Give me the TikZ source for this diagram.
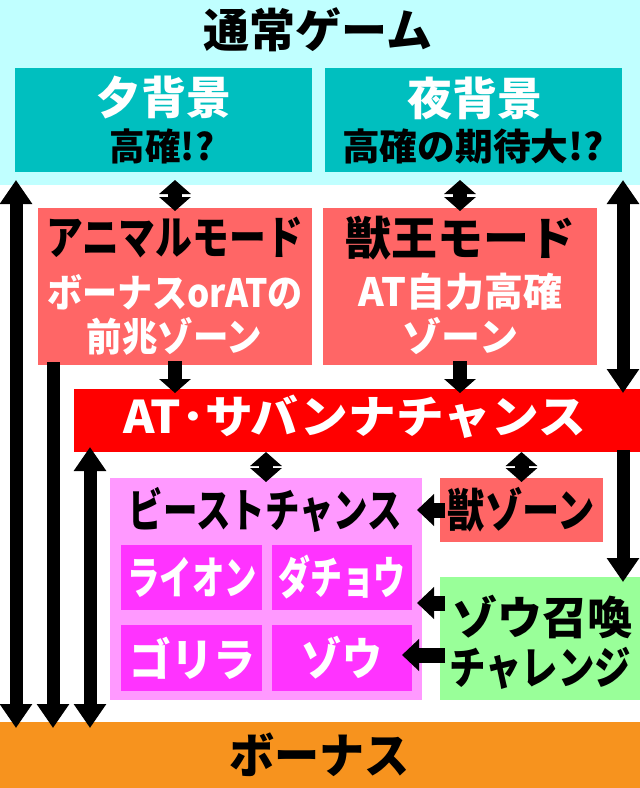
\documentclass[tikz,border=0pt]{standalone}
\usepackage{fontspec}
\usepackage{graphicx}
\setmainfont{Noto Sans CJK JP}[BoldFont={* Black}]
\usetikzlibrary{arrows.meta}

\definecolor{bandcyan}{HTML}{C0FFFF}
\definecolor{teal}{HTML}{00BFBF}
\definecolor{salmon}{HTML}{FF6666}
\definecolor{atred}{HTML}{FF0000}
\definecolor{beastpink}{HTML}{FF99FF}
\definecolor{animalmag}{HTML}{FF33FF}
\definecolor{zougreen}{HTML}{99FF99}
\definecolor{bonusorange}{HTML}{F7931E}

\newcommand{\sq}[2]{\scalebox{#1}[1]{#2}}
\newcommand{\fs}[1]{\bfseries\fontsize{#1}{#1}\selectfont}

\tikzset{
  longtip/.tip={Triangle[width=31pt,length=24pt]},
  shorttip/.tip={Triangle[width=31pt,length=14pt]},
  sidetip/.tip={Triangle[width=31pt,length=17pt]}
}

\begin{document}
\begin{tikzpicture}[x=1pt,y=-1pt,
  box/.style={rectangle,draw=none,inner sep=0pt,outer sep=0pt},
  lbl/.style={inner sep=0pt,outer sep=0pt},
  bigpair/.style={line width=13pt,{longtip}-{longtip}},
  bigdown/.style={line width=13pt,-{longtip}},
  pair/.style={line width=14pt,{shorttip}-{shorttip}},
  down/.style={line width=14pt,-{shorttip}},
  side/.style={line width=15pt,-{sidetip}}]
\fill[white] (0,0) rectangle (640,788);

% boxes
\node[box,fill=bandcyan,minimum width=640pt,minimum height=185pt] (normal) at (320,92.5) {};
\node[box,fill=teal,minimum width=297pt,minimum height=104pt] (yuu) at (163.5,120) {};
\node[box,fill=teal,minimum width=297pt,minimum height=104pt] (yoru) at (473.5,120) {};
\node[box,fill=salmon,minimum width=274pt,minimum height=157pt] (animal) at (175,286.5) {};
\node[box,fill=salmon,minimum width=274pt,minimum height=157pt] (juou) at (460,286.5) {};
\node[box,fill=atred,minimum width=566pt,minimum height=63pt] (at) at (357,420.5) {};
\node[box,fill=beastpink,minimum width=312pt,minimum height=222pt] (beast) at (266,589) {};
\node[box,fill=animalmag,minimum width=141pt,minimum height=65pt] (lion) at (191.5,577.5) {};
\node[box,fill=animalmag,minimum width=140pt,minimum height=65pt] (dacho) at (342,577.5) {};
\node[box,fill=animalmag,minimum width=141pt,minimum height=66pt] (gorilla) at (191.5,658) {};
\node[box,fill=animalmag,minimum width=140pt,minimum height=66pt] (zou) at (342,658) {};
\node[box,fill=salmon,minimum width=163pt,minimum height=64pt] (juzone) at (521.5,510) {};
\node[box,fill=zougreen,minimum width=200pt,minimum height=123pt] (green) at (540,638.5) {};
\node[box,fill=bonusorange,minimum width=640pt,minimum height=66pt] (bonus) at (320,755) {};

% texts
\node[lbl,font=\fs{46}] (normal-t) at (318,30) {通常ゲーム};
\node[lbl,font=\fs{45},text=white] (yuu-t) at (163.5,98) {夕背景};
\node[lbl,font=\fs{37}] (yuu-s) at (162,146) {\sq{0.96}{高確!?}};
\node[lbl,font=\fs{45},text=white] (yoru-t) at (474.5,98) {夜背景};
\node[lbl,font=\fs{37}] (yoru-s) at (473,146) {\sq{1.02}{高確の期待大!?}};
\node[lbl,font=\fs{46}] (animal-t) at (174.5,238) {\sq{0.80}{アニマルモード}};
\node[lbl,font=\fs{39},text=white] (animal-s) at (175,292) {\sq{0.90}{ボーナスorATの}};
\node[lbl,font=\fs{39},text=white] (animal-u) at (174.5,336) {\sq{0.91}{前兆ゾーン}};
\node[lbl,font=\fs{46}] (juou-t) at (460,238) {獣王モード};
\node[lbl,font=\fs{39},text=white] (juou-s) at (460.5,292) {AT自力高確};
\node[lbl,font=\fs{39},text=white] (juou-u) at (460.5,336) {ゾーン};
\node[lbl,font=\fs{45},text=white] (at-t) at (354.5,417) {\sq{1.06}{AT･サバンナチャンス}};
\node[lbl,font=\fs{46}] (beast-t) at (265.5,510) {\sq{0.75}{ビーストチャンス}};
\node[lbl,font=\fs{45},text=white] (lion-t) at (192,577) {\sq{0.72}{ライオン}};
\node[lbl,font=\fs{45},text=white] (dacho-t) at (342,577) {\sq{0.71}{ダチョウ}};
\node[lbl,font=\fs{45},text=white] (gorilla-t) at (192.5,658) {\sq{0.93}{ゴリラ}};
\node[lbl,font=\fs{45},text=white] (zou-t) at (342,658) {\sq{0.89}{ゾウ}};
\node[lbl,font=\fs{46}] (juzone-t) at (521.5,510) {\sq{0.81}{獣ゾーン}};
\node[lbl,font=\fs{45}] (green-t) at (542,617) {ゾウ召喚};
\node[lbl,font=\fs{45}] (green-s) at (540,668) {\sq{0.81}{チャレンジ}};
\node[lbl,font=\fs{48}] (bonus-t) at (319.5,755) {\sq{0.94}{ボーナス}};

% arrows
\draw[pair,shorten <=-3pt,shorten >=8pt] (animal.north) -- (animal.north |- yuu.south);
\draw[pair,shorten <=-3pt,shorten >=8pt] (juou.north) -- (juou.north |- yoru.south);
\draw[down,shorten <=-4pt,shorten >=-4pt] (animal.south) -- (animal.south |- at.north);
\draw[down,shorten <=-4pt,shorten >=-4pt] (juou.south) -- (juou.south |- at.north);
\draw[bigpair,shorten <=-5pt,shorten >=-6pt] ([xshift=16pt]normal.south west) -- ([xshift=16pt]bonus.north west);
\draw[bigdown,shorten <=-3pt,shorten >=-6pt] ([xshift=15pt]animal.south west) -- ([xshift=53pt]bonus.north west);
\draw[bigpair,shorten <=-5pt,shorten >=-6pt] ([xshift=16pt]at.south west) -- ([xshift=90pt]bonus.north west);
\draw[bigpair,shorten <=-5pt,shorten >=-4pt] ([xshift=-17pt]normal.south east) -- ([xshift=-17pt]at.north east);
\draw[bigdown,shorten <=-2pt,shorten >=-5pt] ([xshift=-17pt]at.south east) -- ([xshift=-17pt]green.north east);
\draw[pair,shorten <=-4pt] (beast.north) -- (beast.north |- at.south);
\draw[pair,shorten <=-4pt] (juzone.north) -- (juzone.north |- at.south);
\draw[side,shorten <=-5pt,shorten >=-5pt] (juzone.west) -- (juzone.west -| beast.east);
\draw[side,shorten <=-5pt,shorten >=-5pt] ([yshift=35.5pt]green.west) -- ([yshift=35.5pt]green.west -| beast.east);
\draw[side,shorten <=-5pt,shorten >=-10pt] ([yshift=-16.5pt]green.west) -- ([yshift=-16.5pt]green.west -| zou.east);
\end{tikzpicture}
\end{document}
